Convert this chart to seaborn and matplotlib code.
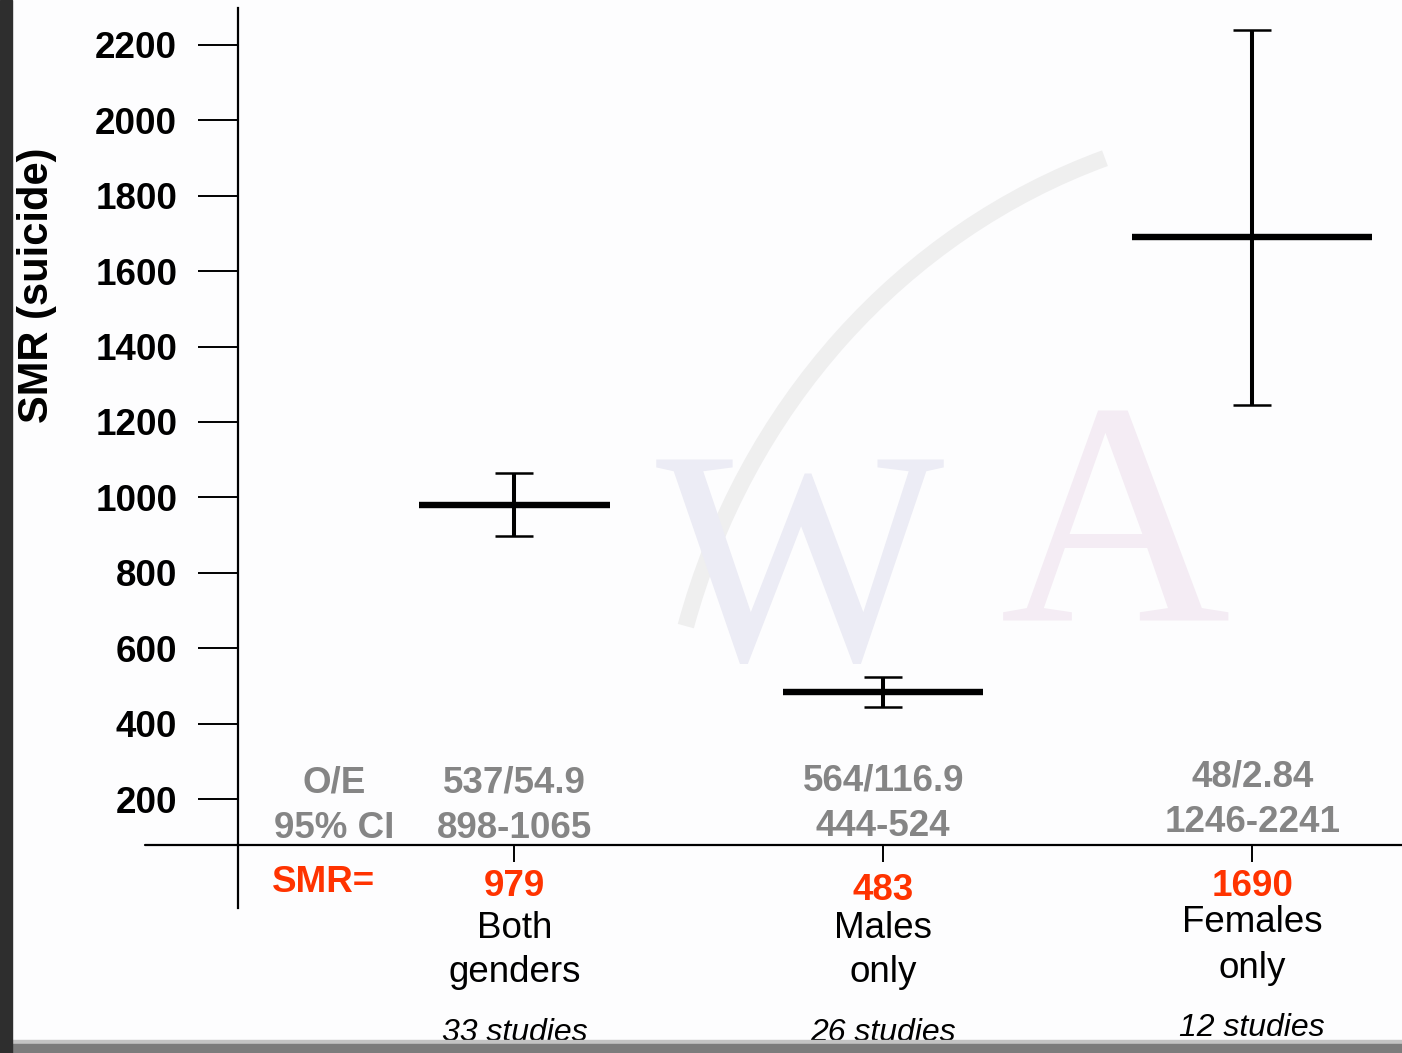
import numpy as np
import pandas as pd
import matplotlib
matplotlib.use("Agg")
import matplotlib.pyplot as plt
import matplotlib.transforms as mtransforms
from matplotlib.patches import Rectangle, Arc
import seaborn as sns

# ---- data -------------------------------------------------------------
groups = ["Both genders", "Males only", "Females only"]
group_lines = [("Both", "genders"), ("Males", "only"), ("Females", "only")]
smr = [979, 483, 1690]
ci_low = [898, 444, 1246]
ci_high = [1065, 524, 2241]
obs_exp = ["537/54.9", "564/116.9", "48/2.84"]
n_studies = [33, 26, 12]
y_ticks = [200, 400, 600, 800, 1000, 1200, 1400, 1600, 1800, 2000, 2200]

# ---- style ------------------------------------------------------------
W, H = 1402, 1053
RED = "#ff3300"
GREY = "#858585"
bar_len_pt = [138, 144, 173]          # length of the horizontal SMR bars

sns.set_theme(style="white")
plt.rcParams["font.family"] = ["Liberation Sans", "DejaVu Sans"]

fig = plt.figure(figsize=(W / 100, H / 100), dpi=100)
fig.patch.set_facecolor("#fdfdfe")

ax = fig.add_axes([238 / W, 1 - 908 / H, 1 - 238 / W, 900 / H])
ax.patch.set_alpha(0)

def fy(px):
    """figure-fraction y from a pixel row measured from the top"""
    return 1 - px / H

# faint background lettering and swash
wm = dict(family=["Liberation Serif", "DejaVu Serif"], ha="center", va="center",
          zorder=-2, transform=fig.transFigure)
fig.text(800 / W, fy(585), "W", fontsize=220, color="#ececf5", **wm)
fig.text(1115 / W, fy(545), "A", fontsize=230, color="#f4ecf4", **wm)
fig.patches.append(Arc((1320, H - 820), 1320, 1400, theta1=108, theta2=163,
                       transform=mtransforms.IdentityTransform(),
                       color="#dedede", lw=12, alpha=0.45, zorder=-2))

# ---- marks ------------------------------------------------------------
df = pd.DataFrame({"group": groups, "pos": np.arange(len(groups)), "smr": smr,
                   "lo": ci_low, "hi": ci_high})

sns.scatterplot(data=df, x="pos", y="smr", size="group",
                sizes={g: s ** 2 for g, s in zip(groups, bar_len_pt)},
                marker="_", color="black", linewidth=4.6, legend=False,
                ax=ax, zorder=3)
ax.errorbar(df["pos"], df["smr"], yerr=[df["smr"] - df["lo"], df["hi"] - df["smr"]],
            fmt="none", ecolor="black", elinewidth=2.9, capsize=13.7,
            capthick=1.8, zorder=2)

# ---- axes -------------------------------------------------------------
ax.set_xlim(-0.749, 2.406)
ax.set_ylim(-89.1, 2298.1)
ax.set_xlabel("")
ax.set_ylabel("")

for side in ("top", "right"):
    ax.spines[side].set_visible(False)
ax.spines["left"].set_linewidth(1.6)
ax.spines["left"].set_color("black")
ax.spines["bottom"].set_position(("data", 78))
ax.spines["bottom"].set_linewidth(1.6)
ax.spines["bottom"].set_color("black")
# baseline continues to the left of the value axis
trans_xfig = mtransforms.blended_transform_factory(fig.transFigure, ax.transData)
ax.plot([145 / W, 238 / W], [78, 78], color="black", lw=1.6,
        transform=trans_xfig, clip_on=False)

ax.set_yticks(y_ticks)
ax.set_yticklabels([str(v) for v in y_ticks])
ax.tick_params(axis="y", direction="out", length=28.8, width=1.4, pad=15,
               labelsize=26.5, colors="black", left=True)
for lab in ax.get_yticklabels():
    lab.set_fontweight("bold")

ax.set_xticks(df["pos"])
ax.tick_params(axis="x", direction="out", length=12, width=1.4,
               bottom=True, labelbottom=False, colors="black")

fig.text(37 / W, fy(285), "SMR (suicide)", rotation=90, ha="center",
         va="center", fontsize=30, fontweight="bold", color="black")

# ---- annotations ------------------------------------------------------
trans = mtransforms.blended_transform_factory(ax.transData, fig.transFigure)
fs = 26.5
oe_rows = [783, 783, 781, 777]
ci_rows = [828, 828, 826, 822]
smr_rows = [886, 891, 887]
name_rows = [(928, 972), (928, 973), (923, 968)]
study_rows = [1033, 1033, 1028]

ax.text((334 - 514.3) / 369, fy(oe_rows[0]), "O/E", transform=trans, ha="center",
        va="center", fontsize=fs, fontweight="bold", color=GREY)
ax.text((334 - 514.3) / 369, fy(ci_rows[0]), "95% CI", transform=trans,
        ha="center", va="center", fontsize=fs, fontweight="bold", color=GREY)
ax.text((323 - 514.3) / 369, fy(882), "SMR=", transform=trans, ha="center",
        va="center", fontsize=fs, fontweight="bold", color=RED)

for i, g in enumerate(groups):
    x = df["pos"][i]
    ax.text(x, fy(oe_rows[i + 1]), obs_exp[i], transform=trans, ha="center",
            va="center", fontsize=fs, fontweight="bold", color=GREY)
    ax.text(x, fy(ci_rows[i + 1]), f"{ci_low[i]}-{ci_high[i]}", transform=trans,
            ha="center", va="center", fontsize=fs, fontweight="bold", color=GREY)
    ax.text(x, fy(smr_rows[i]), f"{smr[i]}", transform=trans, ha="center",
            va="center", fontsize=fs, fontweight="bold", color=RED)
    for line, row in zip(group_lines[i], name_rows[i]):
        ax.text(x, fy(row), line, transform=trans, ha="center", va="center",
                fontsize=fs, color="black")
    ax.text(x, fy(study_rows[i]), f"{n_studies[i]} studies", transform=trans,
            ha="center", va="center", fontsize=23, fontstyle="italic",
            color="black")

# slide frame: dark left edge and grey bottom band
fig.patches.append(Rectangle((0, 0), 12 / W, 1, transform=fig.transFigure,
                             color="#2e2e2e", zorder=5))
fig.patches.append(Rectangle((0, 0), 1, 13 / H, transform=fig.transFigure,
                             color="#c4c4c4", zorder=0.5))
fig.patches.append(Rectangle((0, 0), 1, 9 / H, transform=fig.transFigure,
                             color="#7c7c7c", zorder=0.6))

fig.savefig("out.png", dpi=100, facecolor=fig.get_facecolor())
